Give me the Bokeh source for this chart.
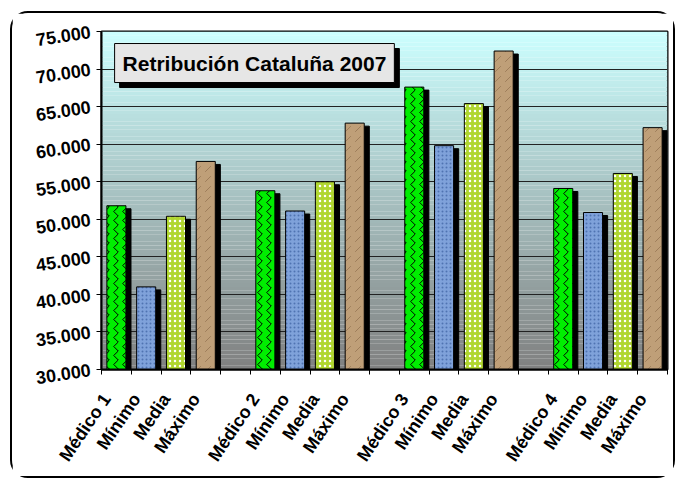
import numpy as np
from bokeh.plotting import figure
from bokeh.models import (FixedTicker, CustomJSTickFormatter, Label, ColumnDataSource)
from bokeh.embed import file_html
from bokeh.resources import INLINE

# ---- data ----
groups = ["Médico 1", "Médico 2", "Médico 3", "Médico 4"]
series = ["Médico", "Mínimo", "Media", "Máximo"]
medico = [51800, 53800, 67600, 54100]
minimo = [41000, 51100, 59800, 50900]
media = [50400, 55000, 65400, 56100]
maximo = [57700, 62800, 72400, 62200]
y_ticks = [30000, 35000, 40000, 45000, 50000, 55000, 60000, 65000, 70000, 75000]
title_text = "Retribución Cataluña 2007"

values_by_series = [medico, minimo, media, maximo]
slot = 5  # 4 bars + 1 gap per group
n_slots = slot * len(groups) - 1
labels = []
for g, name in enumerate(groups):
    labels += [name, "Mínimo", "Media", "Máximo"]
    if g < len(groups) - 1:
        labels.append(" ")

W, H = 665, 467
p = figure(width=W, height=H, output_backend="svg", toolbar_location=None,
           x_range=(0, n_slots), y_range=(y_ticks[0], y_ticks[-1]),
           min_border_left=89, min_border_top=18, min_border_right=10,
           min_border_bottom=111)
p.styles = {"border": "2px solid black", "border-radius": "18px",
            "margin-left": "10px", "margin-top": "11px"}
p.background_fill_color = "#ffffff"
p.border_fill_color = "#ffffff"
p.outline_line_color = "black"
p.outline_line_width = 2

# gradient background
N = 90
edges = np.linspace(y_ticks[0], y_ticks[-1], N + 1)
top_c = np.array([0xCC, 0xFF, 0xFF])
bot_c = np.array([0x80, 0x80, 0x80])
cols = []
for i in range(N):
    t = (i + 0.5) / N
    c = bot_c + (top_c - bot_c) * t
    cols.append("#%02x%02x%02x" % tuple(int(round(v)) for v in c))
bg = p.quad(left=0, right=n_slots, bottom=edges[:-1], top=edges[1:],
            fill_color=cols, line_color=None)
bg.level = "image"

styles = [
    dict(fill_color="#00ee00", hatch_pattern="vertical_wave", hatch_color="black",
         hatch_scale=9, hatch_weight=1),
    dict(fill_color="#7fa2da", hatch_pattern="dot", hatch_color="#2f5398",
         hatch_scale=4, hatch_weight=1.5, hatch_alpha=0.6),
    dict(fill_color="#b0d630", hatch_pattern="dot", hatch_color="white",
         hatch_scale=5, hatch_weight=2.5),
    dict(fill_color="#bf9f78", hatch_pattern="right_diagonal_dash", hatch_color="#7a5a3a",
         hatch_scale=10, hatch_weight=1, hatch_alpha=0.5),
]
bw = 0.64
for s, vals in enumerate(values_by_series):
    xs = [g * slot + s + 0.5 for g in range(len(groups))]
    src = ColumnDataSource(dict(x=xs, top=vals,
                                sx=[x + 0.17 for x in xs],
                                stop=[v - 400 for v in vals]))
    p.vbar(x="sx", top="stop", bottom=y_ticks[0], width=bw, source=src,
           fill_color="black", line_color="black")
    p.vbar(x="x", top="top", bottom=y_ticks[0], width=bw, source=src,
           line_color="black", line_width=1, **styles[s])

# grid
p.xgrid.visible = False
p.ygrid.ticker = FixedTicker(ticks=y_ticks)
p.ygrid.grid_line_color = "#222222"
p.ygrid.grid_line_width = 1

# y axis
p.yaxis.ticker = FixedTicker(ticks=y_ticks)
p.yaxis.formatter = CustomJSTickFormatter(code="return (tick/1000).toFixed(3);")
p.yaxis.major_label_text_font = "Liberation Sans"
p.yaxis.major_label_text_font_style = "bold"
p.yaxis.major_label_text_font_size = "18px"
p.yaxis.major_label_text_color = "black"
p.yaxis.major_label_orientation = 0.15
p.yaxis.axis_line_width = 2
p.yaxis.axis_line_color = "black"
p.yaxis.major_tick_out = 5
p.yaxis.major_tick_in = 0
p.yaxis.minor_tick_line_color = None
p.yaxis.major_label_standoff = 6

# x axis: labels slightly left of bar centres, ticks at slot boundaries
label_pos = [i + 0.17 for i in range(n_slots)]
bounds = list(range(n_slots + 1))
p.xaxis.ticker = FixedTicker(ticks=label_pos, minor_ticks=bounds)
p.xaxis.formatter = CustomJSTickFormatter(args=dict(labels=labels),
                                          code="return labels[Math.floor(tick)];")
p.xaxis.major_tick_line_color = None
p.xaxis.minor_tick_out = 5
p.xaxis.minor_tick_in = 0
p.xaxis.axis_line_width = 2
p.xaxis.axis_line_color = "black"
p.xaxis.major_label_orientation = 56 * np.pi / 180
p.xaxis.major_label_text_font = "Liberation Sans"
p.xaxis.major_label_text_font_style = "bold"
p.xaxis.major_label_text_font_size = "18px"
p.xaxis.major_label_text_color = "black"
p.xaxis.major_label_standoff = 20

# title box with shadow
shadow = Label(x=0.44, y=73400, text=title_text, anchor="top_left",
               x_offset=5, y_offset=-5,
               text_font="Liberation Sans", text_font_style="bold",
               text_font_size="21px", text_color="black",
               background_fill_color="black", border_line_color="black",
               padding=8)
box = Label(x=0.44, y=73400, text=title_text, anchor="top_left",
            text_font="Liberation Sans", text_font_style="bold",
            text_font_size="21px", text_color="black",
            background_fill_color="#e6e6e6", border_line_color="black",
            border_line_width=1, padding=8)
p.add_layout(shadow)
p.add_layout(box)

open("out.html", "w").write(file_html(p, INLINE))
